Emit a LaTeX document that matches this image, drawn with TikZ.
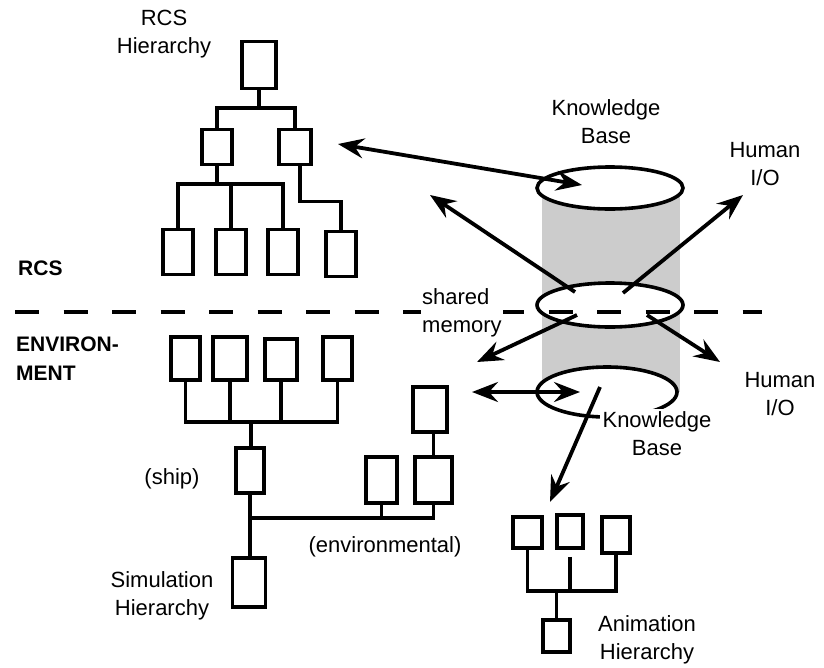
\documentclass[tikz,border=0pt]{standalone}
\usepackage{fontspec}
\setmainfont{Liberation Sans}
\usetikzlibrary{arrows.meta,positioning,calc,shapes.geometric}
\tikzset{
  unit/.style={draw,line width=3.6pt,inner sep=0pt,minimum width=30pt,minimum height=45pt},
  wire/.style={line width=3.6pt},
  lbl/.style={align=center,font=\fontsize{22}{28}\selectfont,inner sep=1pt},
  zone/.style={align=left,font=\fontsize{21}{29}\selectfont\bfseries,inner sep=0pt,anchor=north west},
  store/.style={draw,ellipse,line width=3.6pt,fill=white,inner sep=0pt},
  link/.style={-{Stealth[length=26pt,width=20pt,inset=9pt]},line width=3.8pt},
  duplex/.style={{Stealth[length=26pt,width=20pt,inset=9pt]}-{Stealth[length=26pt,width=20pt,inset=9pt]},line width=3.8pt}
}
\begin{document}
\begin{tikzpicture}[x=1pt,y=-1pt]
\useasboundingbox (0,0) rectangle (824,667);

% RCS hierarchy
\node[unit,minimum width=34pt,minimum height=47pt] (r0) at (259,65) {};
\node[unit,minimum height=35pt] (r1) at (217,147) {};
\node[unit,minimum width=32pt,minimum height=35pt] (r2) at (295,147) {};
\foreach \i/\x in {1/178,2/231,3/283}
  \node[unit] (l\i) at (\x,252) {};
\node[unit] (l4) at (341,254) {};
\coordinate (rj) at (259,108);
\coordinate (lj) at (217,184);
\draw[wire] (r0.south) -- (rj);
\draw[wire] (r1.north) |- (rj) -| (r2.north);
\draw[wire] (r1.south) -- (lj);
\draw[wire] (l1.north) |- (lj) -| (l3.north);
\draw[wire] (l2.north) -- (l2.north |- lj);
\draw[wire] ([xshift=5pt]r2.south) -- ++(0,35) -| (l4.north);

% environment (simulation) hierarchy
\node[unit,minimum width=29pt,minimum height=43pt] (e1) at (185.5,358.5) {};
\node[unit,minimum width=34pt,minimum height=43pt] (e2) at (230,358.5) {};
\node[unit,minimum width=32pt,minimum height=41pt] (e3) at (281,359.5) {};
\node[unit,minimum width=29pt,minimum height=43pt] (e4) at (337.5,358.5) {};
\node[unit,minimum width=28pt] (ship) at (250,470.5) {};
\node[unit,minimum width=33pt,minimum height=49pt] (sim) at (249,582.5) {};
\node[unit,minimum width=31pt,minimum height=46pt] (ea) at (381.5,480) {};
\node[unit,minimum width=37pt,minimum height=46pt] (eb) at (433.5,480) {};
\node[unit,minimum width=34pt] (ec) at (430,409.5) {};
\coordinate (ej) at (251,422);
\coordinate (vj) at (249,518);
\draw[wire] (e1.south) |- (ej) -| (e4.south);
\draw[wire] (e2.south) -- (e2.south |- ej);
\draw[wire] (e3.south) -- (e3.south |- ej);
\draw[wire] (ej) -- (ej |- ship.north);
\draw[wire] (ship.south) -- (ship.south |- sim.north);
\draw[wire] (vj) -| (eb.south);
\draw[wire] (ea.south) -- (ea.south |- vj);
\draw[wire] (eb.north) -- (eb.north |- ec.south);

% animation hierarchy
\node[unit,minimum width=29pt,minimum height=31pt] (a1) at (527.5,532.5) {};
\node[unit,minimum width=26pt,minimum height=33pt] (a2) at (570,531.5) {};
\node[unit,minimum width=28pt,minimum height=36pt] (a3) at (616,535) {};
\node[unit,minimum width=27pt,minimum height=32pt] (a4) at (556.5,636) {};
\coordinate (aj) at (556.5,591);
\draw[wire] (a1.south) |- (aj) -| (a3.south);
\draw[wire] ([yshift=-7pt]a2.south) -- (a2.south |- aj);
\draw[wire] (aj) -- (a4.north);

% knowledge base / shared memory column
\fill[black!20] (542,188) rectangle (680,392);
\node[store,minimum width=146pt,minimum height=42pt] (kbtop) at (610,188) {};
\node[store,minimum width=146pt,minimum height=44pt] (shm) at (610,305) {};
\node[store,minimum width=140pt,minimum height=50pt] (kbbot) at (607,392) {};
\coordinate (dl) at (15,312);
\coordinate (dr) at (762,312);
\draw[line width=3.8pt,dash pattern=on 24pt off 24.5pt] (dl) -- (dr);

% labels
\node[lbl] (rcsh) at (164,34) {RCS\\Hierarchy};
\node[lbl] (kbt) at (606,122) {Knowledge\\Base};
\node[lbl] (hio1) at (765,164) {Human\\I/O};
\node[lbl,align=left,anchor=west,fill=white] (shml) at (421,313) {shared\\memory};
\node[lbl] (hio2) at (780,394) {Human\\I/O};
\node[lbl,fill=white,inner sep=3pt] (kbb) at (657,434) {Knowledge\\Base};
\node[lbl] (shipl) at (172,479) {(ship)};
\node[lbl] (envl) at (385,547) {(environmental)};
\node[lbl] (simh) at (162,596) {Simulation\\Hierarchy};
\node[lbl] (anih) at (647,640) {Animation\\Hierarchy};
\node[zone] (rcsz) at (18,261) {RCS};
\node[zone] (envz) at (16,337) {ENVIRON-\\MENT};

% arrows
\coordinate (rcsin) at (338,144);
\coordinate (kbin) at (582,185);
\coordinate (m1) at (575,292);
\coordinate (m2) at (623,293);
\coordinate (m3) at (577,315);
\coordinate (m4) at (647,315);
\coordinate (upl) at (430,195);
\coordinate (upr) at (743,195);
\coordinate (lol) at (477,362);
\coordinate (lor) at (720,362);
\coordinate (simin) at (472,392);
\coordinate (kbbin) at (580,392);
\coordinate (kbbout) at (600,387);
\coordinate (aniin) at (550,502);
\draw[duplex] (rcsin) -- (kbin);
\draw[link] (m1) -- (upl);
\draw[link] (m2) -- (upr);
\draw[link] (m3) -- (lol);
\draw[link] (m4) -- (lor);
\draw[duplex] (simin) -- (kbbin);
\draw[link] (kbbout) -- (aniin);
\end{tikzpicture}
\end{document}
